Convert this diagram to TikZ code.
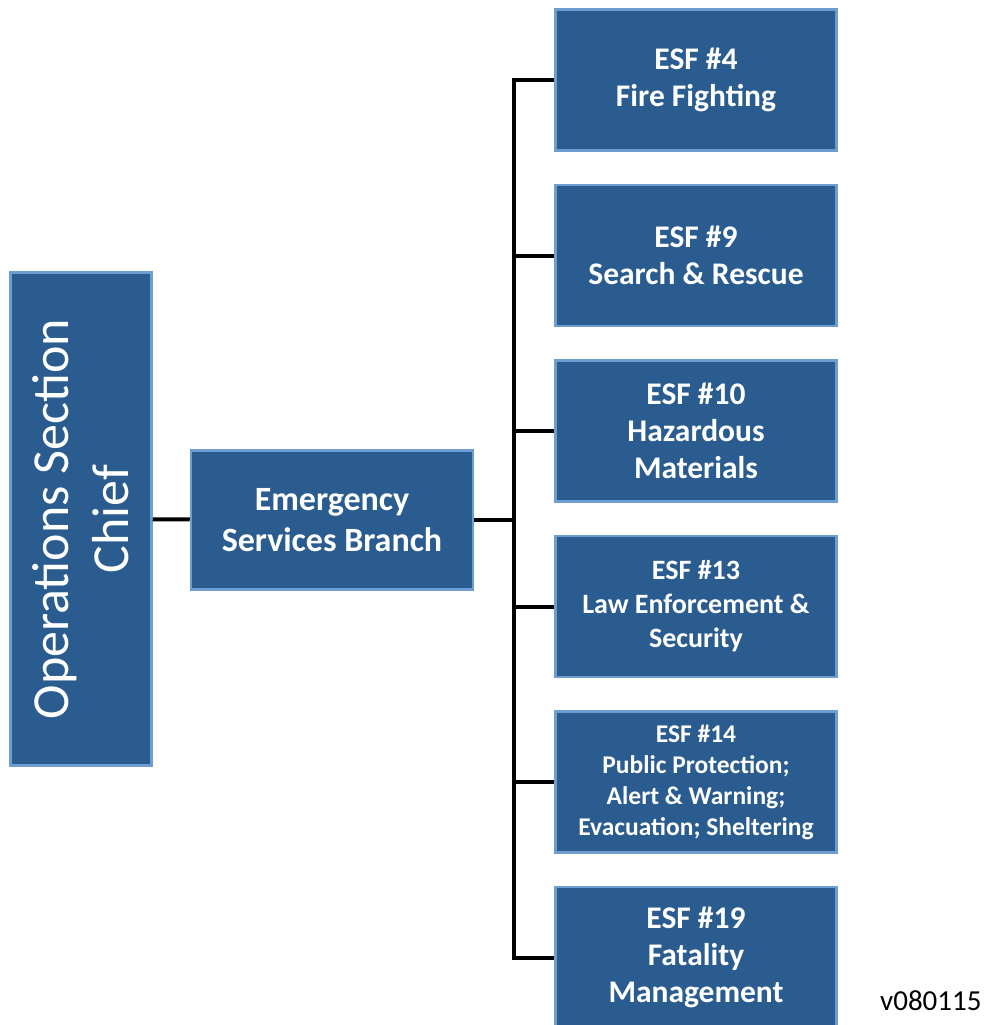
\documentclass[tikz,border=0pt]{standalone}
\usepackage{fontspec}
\setmainfont{Carlito}
\definecolor{esfBlue}{HTML}{2A5C8F}
\definecolor{esfEdge}{HTML}{6E9DD0}
\usetikzlibrary{positioning}

\begin{document}
\begin{tikzpicture}[x=1pt, y=-1pt,
  box/.style={draw=esfEdge, line width=2.5pt, fill=esfBlue, text=white, align=center, inner sep=0pt, minimum width=281pt, minimum height=141pt, font=\bfseries\fontsize{31.5}{37}\selectfont},
  mid/.style={box, font=\bfseries\fontsize{28}{34}\selectfont},
  tiny/.style={box, font=\bfseries\fontsize{25.5}{31}\selectfont},
  link/.style={line width=4pt, black},
]
  \useasboundingbox (0,0) rectangle (987,1025);

  % left side
  \node[box, rotate=90, minimum width=493pt, minimum height=141pt, font=\fontsize{52}{60}\selectfont] (chief) at (81,519) {Operations Section\\Chief};
  \node[box, minimum width=282pt, minimum height=139pt, font=\bfseries\fontsize{34}{41}\selectfont] (branch) at (332,520) {Emergency\\Services Branch};

  % ESF column
  \node[box] (esf4) at (696,80) {ESF \#4\\Fire Fighting};
  \node[box, below=32pt of esf4] (esf9) {ESF \#9\\Search \& Rescue};
  \node[box, below=32pt of esf9] (esf10) {ESF \#10\\Hazardous\\Materials};
  \node[mid, below=32pt of esf10] (esf13) {ESF \#13\\Law Enforcement \&\\Security};
  \node[tiny, below=32pt of esf13] (esf14) {ESF \#14\\Public Protection;\\Alert \& Warning;\\Evacuation; Sheltering};
  \node[box, below=32pt of esf14] (esf19) {ESF \#19\\Fatality\\Management};

  \coordinate (bus) at (514,0);
  \draw[link] (chief) -- (branch);
  \draw[link] (branch.east) -- (branch.east -| bus);
  \draw[link] (esf4.west) -| (esf19.west -| bus) -- (esf19.west);
  \foreach \n in {esf9, esf10, esf13, esf14}
    \draw[link] (\n.west -| bus) -- (\n.west);

  \node[font=\fontsize{29}{34}\selectfont, anchor=east] (ver) at (985,1001) {v080115};
\end{tikzpicture}
\end{document}
